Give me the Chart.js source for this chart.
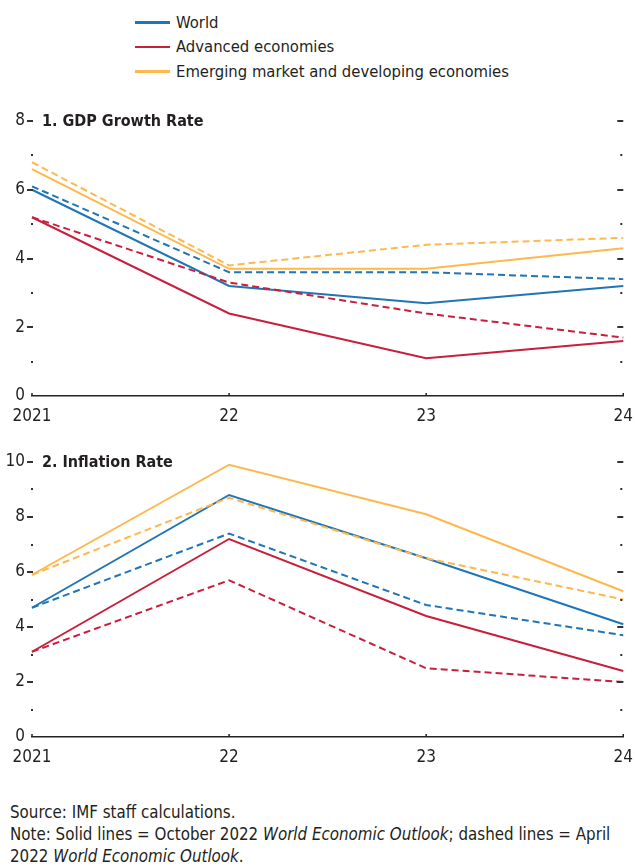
<!DOCTYPE html>
<html>
<head>
<meta charset="utf-8">
<script src="https://cdn.jsdelivr.net/npm/chart.js@4.4.0/dist/chart.umd.min.js"></script>
<style>
  body { margin: 0; background: #fff; width: 635px; height: 866px; position: relative; overflow: hidden;
         font-family: 'Liberation Sans Narrow', 'DejaVu Sans Condensed', sans-serif; color: #231f20; }
  #legend { position: absolute; left: 135px; top: 10px; font-size: 16.5px; }
  .row { height: 24.5px; display: flex; align-items: center; }
  .swatch { width: 35px; height: 2.5px; margin-right: 6px; }
  .box { position: absolute; left: 0; }
  #notes { position: absolute; left: 10px; top: 801px; font-size: 16.8px; line-height: 22px; white-space: nowrap; }
</style>
</head>
<body>
<div id="legend"></div>
<div class="box" style="top:98px"><canvas id="gdp" width="635" height="330"></canvas></div>
<div class="box" style="top:440px"><canvas id="inf" width="635" height="330"></canvas></div>
<div id="notes">Source: IMF staff calculations.<br>Note: Solid lines = October 2022 <i>World Economic Outlook</i>; dashed lines = April<br>2022 <i>World Economic Outlook</i>.</div>
<script>
const years = ['2021', '22', '23', '24'];
const seriesNames = ['World', 'Advanced economies', 'Emerging market and developing economies'];
const seriesColors = ['#1f75b6', '#c8203c', '#fdb84e'];

// 1. GDP growth (solid = Oct 2022 WEO, dashed = Apr 2022 WEO)
const gdpWorldOct = [6.0, 3.2, 2.7, 3.2];
const gdpWorldApr = [6.1, 3.6, 3.6, 3.4];
const gdpAdvOct   = [5.2, 2.4, 1.1, 1.6];
const gdpAdvApr   = [5.2, 3.3, 2.4, 1.7];
const gdpEmdeOct  = [6.6, 3.7, 3.7, 4.3];
const gdpEmdeApr  = [6.8, 3.8, 4.4, 4.6];

// 2. Inflation
const infWorldOct = [4.7, 8.8, 6.5, 4.1];
const infWorldApr = [4.7, 7.4, 4.8, 3.7];
const infAdvOct   = [3.1, 7.2, 4.4, 2.4];
const infAdvApr   = [3.1, 5.7, 2.5, 2.0];
const infEmdeOct  = [5.9, 9.9, 8.1, 5.3];
const infEmdeApr  = [5.9, 8.7, 6.5, 5.0];

const FONT = "'Liberation Sans Narrow', 'DejaVu Sans Condensed', sans-serif";

// legend
const legendEl = document.getElementById('legend');
seriesNames.forEach((name, i) => {
  legendEl.innerHTML += `<div class="row"><span class="swatch" style="background:${seriesColors[i]}"></span>${name}</div>`;
});

function line(data, color, dashed) {
  return {
    data, borderColor: color, borderWidth: 2, pointRadius: 0, tension: 0,
    borderDash: dashed ? [7, 4] : [], fill: false
  };
}

function seg(ctx, x1, x2, y) {
  ctx.beginPath(); ctx.moveTo(x1, y); ctx.lineTo(x2, y); ctx.stroke();
}

// tick marks on both sides + panel title, drawn from the y scale
const panelDeco = {
  id: 'panelDeco',
  afterDraw(chart, args, opts) {
    const { ctx, chartArea } = chart;
    const y = chart.scales.y, x = chart.scales.x;
    const L = chartArea.left, R = chartArea.right;
    ctx.save();
    ctx.strokeStyle = '#333';
    ctx.lineWidth = 2;
    for (let v = 1; v <= y.max; v++) {
      const py = Math.round(y.getPixelForValue(v));
      if (v % 2 === 0) {
        seg(ctx, L - 5, L + 1, py);
        seg(ctx, R - 6, R, py);
      } else {
        seg(ctx, L - 1, L + 1, py);
        seg(ctx, R - 3, R - 1, py);
      }
    }
    // small ticks on the x axis
    ctx.lineWidth = 1.5;
    ctx.strokeStyle = '#222';
    years.forEach((_, i) => {
      const px = x.getPixelForValue(i);
      ctx.beginPath();
      ctx.moveTo(px, chartArea.bottom - 3); ctx.lineTo(px, chartArea.bottom);
      ctx.stroke();
    });
    ctx.fillStyle = '#231f20';
    ctx.font = 'bold 16px ' + FONT;
    ctx.textBaseline = 'middle';
    ctx.fillText(opts.title, L + 10, y.getPixelForValue(y.max) + 1);
    ctx.restore();
  }
};

function makeChart(id, title, yMax, sets, top, bottom) {
  return new Chart(document.getElementById(id), {
    type: 'line',
    data: {
      labels: years,
      datasets: [
        line(sets[5], seriesColors[2], true),
        line(sets[4], seriesColors[2], false),
        line(sets[3], seriesColors[1], true),
        line(sets[2], seriesColors[1], false),
        line(sets[1], seriesColors[0], true),
        line(sets[0], seriesColors[0], false)
      ]
    },
    options: {
      responsive: false,
      animation: false,
      layout: { padding: { top: top, right: 10, left: 0, bottom: 0 } },
      plugins: { legend: { display: false }, tooltip: { enabled: false }, panelDeco: { title } },
      scales: {
        x: {
          offset: false,
          grid: { display: false },
          border: { display: true, color: '#222', width: 1.5 },
          ticks: { color: '#231f20', font: { family: FONT, size: 17 }, padding: 2, maxRotation: 0 },
          afterFit: s => { s.height = bottom; }
        },
        y: {
          min: 0, max: yMax,
          grid: { display: false, tickLength: 0 },
          border: { display: false },
          ticks: {
            stepSize: 1, padding: 7, color: '#231f20', font: { family: FONT, size: 17 },
            callback: v => (v % 2 === 0 ? v : '')
          },
          afterFit: s => { s.width = 32; }
        }
      }
    },
    plugins: [panelDeco]
  });
}

makeChart('gdp', '1. GDP Growth Rate', 8,
  [gdpWorldOct, gdpWorldApr, gdpAdvOct, gdpAdvApr, gdpEmdeOct, gdpEmdeApr], 23, 32);
makeChart('inf', '2. Inflation Rate', 10,
  [infWorldOct, infWorldApr, infAdvOct, infAdvApr, infEmdeOct, infEmdeApr], 22, 33);
</script>
</body>
</html>
